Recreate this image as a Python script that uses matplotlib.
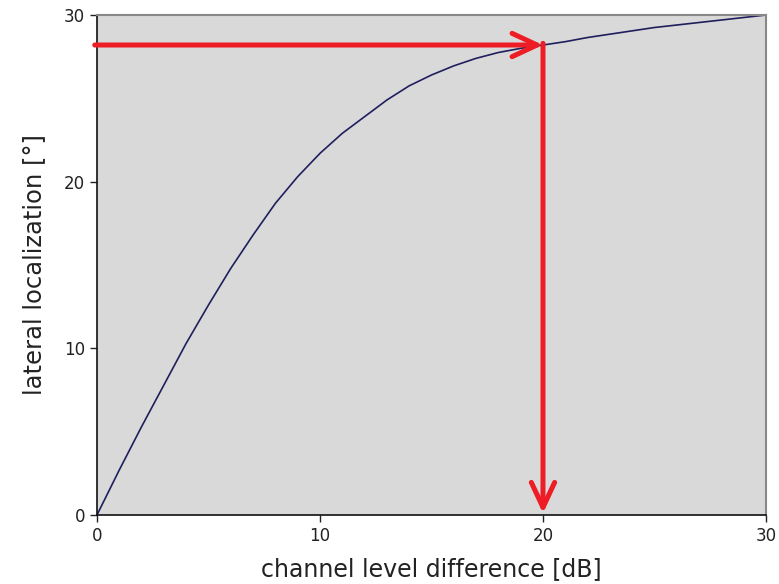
import numpy as np
import matplotlib
matplotlib.use('Agg')
import matplotlib.pyplot as plt

plt.rcParams['font.family'] = ['DejaVu Sans']

# channel level difference [dB] vs. perceived lateral position [deg]
level_diff = list(range(0, 31))
lateral_pos = [0, 2.7, 5.3, 7.8, 10.3, 12.6, 14.8, 16.8, 18.7, 20.3,
               21.7, 22.9, 23.9, 24.9, 25.75, 26.4, 26.95, 27.4, 27.75, 28.0,
               28.2, 28.4, 28.65, 28.85, 29.05, 29.25, 29.4, 29.55, 29.7, 29.85,
               30]

# reading example: 20 dB -> ~28 deg
read_db = 20
read_deg = 28.2

ticks = [0, 10, 20, 30]
arrow_red = '#ee1c25'

fig = plt.figure(figsize=(7.79, 5.84), dpi=100)
ax = fig.add_axes([0.1245, 0.1182, 0.8588, 0.8561])
ax.set_facecolor('#d9d9d9')

ax.plot(level_diff, lateral_pos, color='#1f1f5e', lw=1.2, zorder=2)

arrow_style = dict(arrowstyle='->,head_length=0.9,head_width=0.42',
                   color=arrow_red, lw=3.6, mutation_scale=20,
                   shrinkA=0, shrinkB=0)
# horizontal arrow from the y axis to the curve
ax.annotate('', xy=(read_db, read_deg), xytext=(-0.1, read_deg),
            arrowprops=arrow_style, annotation_clip=False, zorder=3)
# vertical arrow from the curve down to the x axis
ax.annotate('', xy=(read_db, 0.1), xytext=(read_db, read_deg + 0.1),
            arrowprops=arrow_style, annotation_clip=False, zorder=3)

ax.set_xlim(0, 30)
ax.set_ylim(0, 30)
ax.set_xticks(ticks)
ax.set_yticks(ticks)
ax.tick_params(axis='both', direction='out', length=5, width=1, labelsize=12,
               top=False, right=False, colors='#222222')

for side in ['left', 'bottom']:
    ax.spines[side].set_color('#111111')
    ax.spines[side].set_linewidth(1.2)
for side in ['top', 'right']:
    ax.spines[side].set_color('#888888')
    ax.spines[side].set_linewidth(1.5)

ax.set_xlabel('channel level difference [dB]', fontsize=17, color='#222222', labelpad=9)
ax.set_ylabel('lateral localization [°]', fontsize=17.5, color='#222222', labelpad=13)

fig.savefig('out.png', dpi=100)
